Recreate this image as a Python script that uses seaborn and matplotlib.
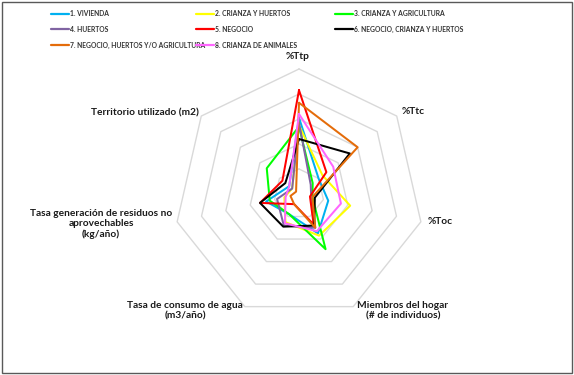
import numpy as np
import pandas as pd
import seaborn as sns
import matplotlib.pyplot as plt
from matplotlib.lines import Line2D
from matplotlib.patches import Rectangle

# radar axes (clockwise from top)
ejes = ["%Ttp", "%Ttc", "%Toc", "Miembros del hogar\n(# de individuos)",
        "Tasa de consumo de agua\n(m3/año)",
        "Tasa generación de residuos no\naprovechables\n(kg/año)",
        "Territorio utilizado (m2)"]

series = ["1. VIVIENDA", "2. CRIANZA Y HUERTOS", "3. CRIANZA Y AGRICULTURA",
          "4. HUERTOS", "5. NEGOCIO", "6. NEGOCIO, CRIANZA Y HUERTOS",
          "7. NEGOCIO, HUERTOS Y/O AGRICULTURA", "8. CRIANZA DE ANIMALES"]

vivienda = [3.05, 1.0, 1.2, 1.75, 0.9, 1.35, 0.5]
crianza_huertos = [2.75, 1.2, 2.1, 1.85, 1.25, 0.6, 0.35]
crianza_agricultura = [2.7, 0.7, 0.55, 2.45, 0.9, 1.2, 1.65]
huertos = [2.85, 0.6, 0.5, 1.5, 1.4, 0.9, 0.35]
negocio = [4.15, 1.4, 0.45, 1.35, 0.45, 1.6, 0.85]
negocio_crianza = [2.2, 2.6, 0.65, 1.4, 1.45, 1.6, 0.7]
negocio_huertos = [3.65, 3.0, 0.55, 1.5, 0.45, 0.35, 0.15]
crianza_animales = [3.2, 1.75, 1.72, 1.65, 1.3, 0.55, 0.5]

valores = [vivienda, crianza_huertos, crianza_agricultura, huertos,
           negocio, negocio_crianza, negocio_huertos, crianza_animales]
colores = ["#00B0F0", "#FFFF00", "#00FF00", "#8064A2",
           "#FF0000", "#000000", "#E46C0A", "#FF66FF"]
anillos = [1, 2, 3, 4, 5]

n = len(ejes)
ang = np.pi / 2 - 2 * np.pi * np.arange(n) / n
ang_c = np.append(ang, ang[0])

rows = []
for nombre, vals in zip(series, valores):
    v = np.append(vals, vals[0])
    for i in range(n + 1):
        rows.append({"serie": nombre, "orden": i,
                     "x": v[i] * np.cos(ang_c[i]), "y": v[i] * np.sin(ang_c[i])})
df = pd.DataFrame(rows)

sns.set_theme(style="white")
plt.rcParams["font.family"] = ["Lato", "DejaVu Sans"]

fig = plt.figure(figsize=(5.74, 3.75), dpi=100)
# centre at (299,194) px, 25 px per ring
ax = fig.add_axes([159 / 574, (375 - 334) / 375, 280 / 574, 280 / 375])
ax.set_xlim(-5.6, 5.6)
ax.set_ylim(-5.6, 5.6)
ax.axis("off")

for r in anillos:
    ax.plot(r * np.cos(ang_c), r * np.sin(ang_c), color="#D9D9D9", lw=1.0, zorder=1)

sns.lineplot(data=df, x="x", y="y", hue="serie", palette=dict(zip(series, colores)),
             sort=False, estimator=None, units="serie", legend=False,
             lw=1.45, ax=ax, zorder=3)

def px(xp, yp):
    return (xp - 299) / 25, (194 - yp) / 25

pos = [(298, 57), (413, 112), (440, 222), (403, 311), (185, 311), (101, 224), (145, 113)]
for txt, (xp, yp) in zip(ejes, pos):
    x, y = px(xp, yp)
    ax.text(x, y, txt, ha="center", va="center", fontsize=7.3, fontweight="bold",
            color="#1a1a1a", linespacing=1.2, clip_on=False)

# legend, three columns
handles = [Line2D([], [], color=c, lw=1.6) for c in colores]
cols = [([0, 3, 6], 51), ([1, 4, 7], 196), ([2, 5], 335)]
for idx, xp in cols:
    fig.legend([handles[i] for i in idx], [series[i] for i in idx],
               loc="upper left", bbox_to_anchor=(xp / 574, 1 - 10 / 375),
               frameon=False, prop={"weight": "bold", "size": 4.9},
               labelcolor="#333333", handlelength=2.6, handletextpad=0.15,
               labelspacing=1.3, borderpad=0, borderaxespad=0)

fig.patches.append(Rectangle((2 / 574, 2 / 375), 570 / 574, 371 / 375,
                             transform=fig.transFigure, fill=False,
                             edgecolor="#595959", lw=1.0))

fig.savefig("out.png", dpi=100)
